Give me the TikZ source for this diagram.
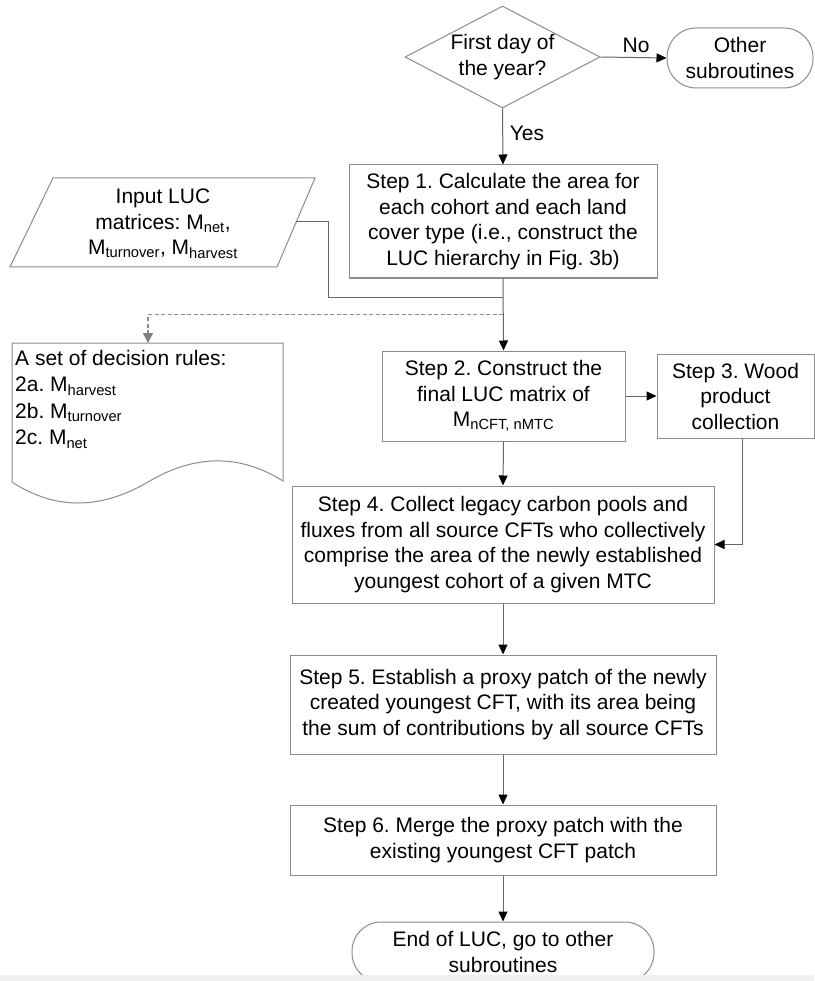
\documentclass[tikz,border=0pt]{standalone}
\usepackage{fontspec}
\setmainfont{Liberation Sans}
\usetikzlibrary{arrows.meta,shapes.geometric,calc}
\begin{document}
\frenchspacing
\begin{tikzpicture}[x=1pt,y=-1pt,
  every node/.style={font=\fontsize{21}{25.5}\selectfont},
  boxline/.style={draw=black!45, line width=1pt},
  stepbox/.style={boxline, fill=white, align=center, inner sep=0pt, anchor=center},
  termbox/.style={boxline, fill=white, align=center, inner sep=0pt, rounded corners=29pt},
  conn/.style={draw=black!60, line width=1pt, -{Triangle[length=10pt,width=9pt,color=black]}},
  plainconn/.style={draw=black!60, line width=1pt},
  dashconn/.style={draw=black!45, line width=1.6pt, dash pattern=on 4pt off 2.5pt,
     -{Triangle[length=10pt,width=10pt,color=black!50]}},
  lbl/.style={inner sep=0pt}
]
\useasboundingbox (0,0) rectangle (814,981);
\fill[white] (0,0) rectangle (814,981);

% decision
\node[diamond, boxline, fill=white, aspect=1.9, inner sep=0pt, minimum width=195pt,
  minimum height=102pt, align=center] (dia) at (502.5,57) {First day of\\the year?};
\node[termbox, minimum width=146pt, minimum height=60pt] (other) at (740,58) {Other\\subroutines};

% step 1
\node[stepbox, minimum width=308pt, minimum height=113pt] (s1) at (503,221.5)
  {Step 1. Calculate the area for\\each cohort and each land\\cover type (i.e., construct the\\LUC hierarchy in Fig. 3b)};

% input parallelogram
\draw[boxline, fill=white] (53,178) -- (315,178) -- (277,267) -- (10,267) -- cycle;
\node[lbl, align=center] (input) at (163,223.5)
  {Input LUC\\matrices: M\textsubscript{net},\\M\textsubscript{turnover}, M\textsubscript{harvest}};
\coordinate (inR) at (296,222);

% document
\draw[boxline, fill=white] (12,343) -- (283,343) -- (283,481)
   .. controls (240,454) and (195,454) .. (148,482)
   .. controls (100,510) and (55,510) .. (12,482) -- cycle;
\coordinate (doc) at (148,343);
\node[lbl, align=left, anchor=north west, font=\fontsize{21}{26.5}\selectfont] (rules) at (15,350)
  {A set of decision rules:\\2a. M\textsubscript{harvest}\\2b. M\textsubscript{turnover}\\2c. M\textsubscript{net}};

% steps
\node[stepbox, minimum width=243pt, minimum height=90pt] (s2) at (503.5,396)
  {Step 2. Construct the\\final LUC matrix of\\M\textsubscript{nCFT, nMTC}};
\node[stepbox, minimum width=157pt, minimum height=84pt] (s3) at (735.5,396)
  {Step 3. Wood\\product\\collection};
\node[stepbox, minimum width=422pt, minimum height=117pt] (s4) at (503,544.5)
  {Step 4. Collect legacy carbon pools and\\fluxes from all source CFTs who collectively\\comprise the area of the newly established\\youngest cohort of a given MTC};
\node[stepbox, minimum width=426pt, minimum height=99pt] (s5) at (503,704.5)
  {Step 5. Establish a proxy patch of the newly\\created youngest CFT, with its area being\\the sum of contributions by all source CFTs};
\node[stepbox, minimum width=426pt, minimum height=70pt] (s6) at (503,840)
  {Step 6. Merge the proxy patch with the\\existing youngest CFT patch};
\node[termbox, minimum width=302pt, minimum height=60pt] (end) at (503,952)
  {End of LUC, go to other\\subroutines};

% connectors
\draw[conn] (dia.east) -- (other.west);
\node[lbl] (no) at (636,45) {No};
\draw[conn] (dia.south) -- (s1.north);
\node[lbl] (yes) at (527,133) {Yes};

\coordinate (j1) at ($(s1.south)+(0,19)$);
\coordinate (j2) at ($(s1.south)+(0,36)$);
\draw[plainconn] (inR) -- ++(32,0) |- (j1);
\draw[dashconn] (j2) -| (doc);
\draw[conn] (s1.south) -- (s2.north);

\draw[conn] (s2.east) -- (s3.west);
\draw[conn] (s2.south) -- (s4.north);
\draw[conn] ([xshift=6.5pt]s3.south) |- (s4.east);
\draw[conn] (s4.south) -- (s5.north);
\draw[conn] (s5.south) -- (s6.north);
\draw[conn] (s6.south) -- (end.north);

% bottom band
\fill[black!6] (0,975) rectangle (814,981);
\end{tikzpicture}
\end{document}
